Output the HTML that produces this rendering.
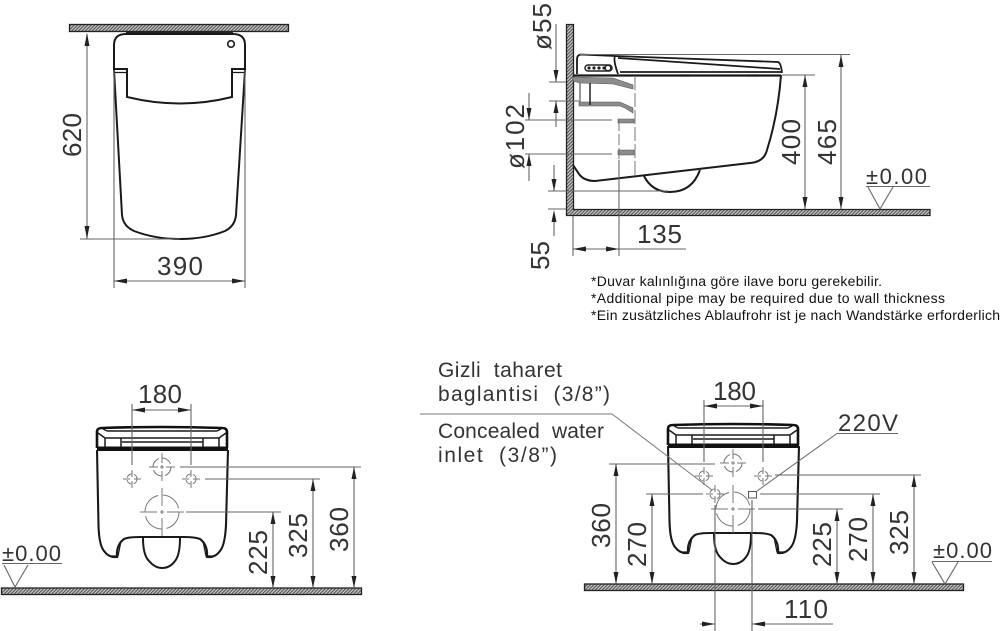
<!DOCTYPE html>
<html><head><meta charset="utf-8"><style>
html,body{margin:0;padding:0;background:#fff;width:1000px;height:631px;overflow:hidden}
svg{display:block}
text{font-family:"Liberation Sans",sans-serif;fill:#333}
.d{font-size:26px}
.l{font-size:21px}
.n{font-size:14px;fill:#111}
.t{fill:none;stroke:#1a1a1a;stroke-width:1.8}
.b{fill:none;stroke:#111;stroke-width:3}
.e{fill:none;stroke:#666;stroke-width:1.1}
.c{fill:none;stroke:#777;stroke-width:1}
.h{fill:url(#hatch);stroke:#222;stroke-width:1.3}
.h0{fill:#8c8c8c;stroke:#555;stroke-width:.6}
.a{fill:#222;stroke:none}
</style></head><body>
<svg width="1000" height="631" viewBox="0 0 1000 631" xmlns="http://www.w3.org/2000/svg">
<defs>
<pattern id="hatch" width="2.400" height="2.400" patternUnits="userSpaceOnUse" patternTransform="rotate(-45)">
<rect width="2.400" height="2.400" fill="#cfcfcf"/><rect width="2.400" height="1.200" fill="#555"/>
</pattern>
<g id="seat">
<path class="b" d="M0 22 L0 6 Q0 2 5 2 Q65 0 125 2 Q130 2 130 6 L130 22" style="stroke-width:2.600"/>
<path class="t" d="M10 5H120M8 12H122M25 16H106M8 12V21M24 12V21M106 12V21M122 12V21M1 7L8 12M129 7L122 12M6 3L10 5M124 3L120 5" style="stroke-width:1.500"/>
<rect x="0" y="20.500" width="131" height="4.500" fill="#111"/>
</g>
<g id="body">
<path class="t" d="M97 450 L98.500 525 Q99 545 104 551 Q109 558 117 557 Q116 545 124 539 Q128 537 140 537 H184 Q195 537 200 539 Q208 545 207 557 Q215 558 220 551 Q225 545 226 525 L228 450" style="stroke-width:2.100"/>
<path class="t" d="M111 556 H118 L121 541 M213 556 H206 L203 541" style="stroke-width:1.300"/>
<path class="t" d="M143 538 Q143 555 149 561 Q155 568 162 568 Q170 568 175 561 Q180 555 180 538" style="stroke-width:2"/>
</g>
<g id="hs"><circle r="5" class="c" stroke-dasharray="6 2.500"/><path class="c" d="M-9 0H-2M2 0H9M0 -9V-2M0 2V9"/></g>
<g id="hm"><circle r="9" class="c" stroke-dasharray="11 3"/><path class="c" d="M-13 0H-4M4 0H13M0 -14V-4M0 4V14M-2 0H2M0 -2V2"/></g>
<g id="hl"><circle r="17" class="c" stroke-dasharray="22 5"/><path class="c" d="M-22 0H-5M5 0H22M0 -24V-6M0 6V24M-2 0H2M0 -2V2"/></g>
</defs>

<!-- TOP LEFT -->
<rect class="h" x="69.500" y="24.500" width="219" height="7"/>
<rect x="126" y="31" width="107" height="3" fill="#222"/>
<path class="t" d="M114 69 V45 Q114 34 126 34 H233 Q245 34 245 45 V69 H232 V97 Q180 110 127 97 V69 Z" style="stroke-width:2"/>
<path class="t" d="M114 72.500 H127M232 72.500 H245" style="stroke-width:1.200"/>
<path class="t" d="M114 70 L122 215 Q123 226 134 231 Q155 239 180 239 Q205 239 225 231 Q235 226 236 215 L245 70" style="stroke-width:2"/>
<circle cx="231" cy="44" r="3.300" fill="#fff" stroke="#222" stroke-width="1.700"/>
<path class="e" d="M87 34V239M80 239H180M114 70V288M245 70V288M114 281H245"/>
<path class="a" d="M87 33l-2.500 13h5zM87 239l-2.500 -13h5zM114 281l13 -2.500v5zM245 281l-13 -2.500v5z"/>
<text class="d" transform="translate(81,135) rotate(-90)" text-anchor="middle" textLength="44">620</text>
<text class="d" x="157" y="275" textLength="46">390</text>

<!-- TOP RIGHT -->
<path class="h" d="M566.500 24.500 H573.500 V209.500 H930 V215.500 H566.500 Z"/>
<path class="t" d="M577 74 V59 Q577 55 581 54.500 L615 56 L778 62 Q781 63 782 73 M615 56 Q613 60 618 74 M618 58 L780 69 M620 72 H781" style="stroke-width:1.800"/>
<path class="t" d="M573 75.500 H781" style="stroke-width:2.200"/>
<path d="M680 74.500h11v2h-11zM747 74.500h12v2h-12z" fill="#111"/>
<rect x="585" y="65" width="27" height="6" rx="3" fill="#fff" stroke="#222" stroke-width="1.500"/>
<circle cx="589" cy="68" r="1.600" fill="#222"/><circle cx="594" cy="68" r="1.600" fill="#222"/><circle cx="599" cy="68" r="1.600" fill="#222"/><circle cx="604" cy="68" r="1.600" fill="#222"/>
<circle cx="608" cy="68" r="2.700" fill="#fff" stroke="#222" stroke-width="1.300"/>
<path class="t" d="M781 75 Q778 115 767 150 Q764 162 750 163 L595 181 Q584 181 579 174 L573 165" style="stroke-width:2"/>
<path class="t" d="M644 176 Q652 192 670 192 Q692 192 700 170" style="stroke-width:2"/>
<path class="h0" d="M573 77L613 78L633 85V89L613 84L580 83L573 81Z"/>
<path class="h0" d="M579 102H620L633 108V113L625 108L620 106H579Z"/>
<path class="h0" d="M618 119H634V123H618ZM618 150H634V155H618Z"/>
<path class="e" d="M580 83V102" style="stroke:#444"/>
<path d="M590 83V105" fill="none" stroke="#222" stroke-width="1.500"/>
<path class="c" d="M635 76V176" stroke-dasharray="14 3"/>
<path class="c" d="M619 120V160" stroke-dasharray="11 3"/>
<path class="e" d="M619 160V256M573 216V256M549 82H566M549 101H579M525 120H612M525 154H612M548 191H668M548 209H566M573 249H686"/>
<path class="e" d="M556 24V82M556 101V127M529 93V120M529 154V181M554 165V191M554 216V236"/>
<path class="e" d="M580 54.500H850M782 75H815M805 75V209M841 55V209"/>
<path class="a" d="M556 82l-2.500 -12h5zM556 101l-2.500 12h5zM529 120l-2.500 -12h5zM529 154l-2.500 12h5zM554 191l-2.500 -12h5zM554 210l-2.500 12h5zM573 249l13 -2.500v5zM619 249l-13 -2.500v5zM805 75l-2.500 12h5zM805 209l-2.500 -12h5zM841 55l-2.500 12h5zM841 209l-2.500 -12h5z"/>
<text class="d" transform="translate(551,50) rotate(-90)" textLength="47">ø55</text>
<text class="d" transform="translate(524,169) rotate(-90)" textLength="65">ø102</text>
<text class="d" transform="translate(549,270) rotate(-90)" textLength="29">55</text>
<text class="d" x="637" y="243" textLength="45">135</text>
<text class="d" transform="translate(800,165) rotate(-90)" textLength="46">400</text>
<text class="d" transform="translate(836,165) rotate(-90)" textLength="46">465</text>
<text class="l" x="866" y="184" textLength="61" style="font-size:22px">±0.00</text>
<path class="e" d="M866 186.500H930M868 187L880 209L893 187"/>

<text class="n" x="591" y="286" textLength="291">*Duvar kalınlığına göre ilave boru gerekebilir.</text>
<text class="n" x="591" y="303" textLength="354">*Additional pipe may be required due to wall thickness</text>
<text class="n" x="591" y="320" textLength="409">*Ein zusätzliches Ablaufrohr ist je nach Wandstärke erforderlich</text>

<!-- BOTTOM LEFT -->
<rect class="h" x="1.500" y="588" width="360" height="6.500"/>
<use href="#seat" x="97" y="426"/>
<use href="#body"/>
<use href="#hm" x="162" y="467"/><use href="#hs" x="132" y="479"/><use href="#hs" x="191" y="479"/><use href="#hl" x="162" y="512"/>
<path class="e" d="M132 404V465M191 404V465M132 410H191M180 467H361M205 479H320M186 512H281M273 512V588M313 479V588M354 467V588"/>
<path class="a" d="M132 410l13 -2.500v5zM191 410l-13 -2.500v5zM273 512l-2.500 12h5zM273 588l-2.500 -12h5zM313 479l-2.500 12h5zM313 588l-2.500 -12h5zM354 467l-2.500 12h5zM354 588l-2.500 -12h5z"/>
<text class="d" x="138" y="403" textLength="44">180</text>
<text class="d" transform="translate(267,575) rotate(-90)" textLength="45">225</text>
<text class="d" transform="translate(307,558) rotate(-90)" textLength="45">325</text>
<text class="d" transform="translate(348,552) rotate(-90)" textLength="45">360</text>
<text class="l" x="2" y="561" textLength="59" style="font-size:22px">±0.00</text>
<path class="e" d="M2 563.500H62M4 565L15 587L28 565"/>

<!-- BOTTOM RIGHT -->
<rect class="h" x="584.500" y="584" width="379" height="6.500"/>
<use href="#seat" x="668" y="423"/>
<use href="#body" x="571" y="-4"/>
<use href="#hm" x="733" y="463"/><use href="#hs" x="704" y="476"/><use href="#hs" x="763" y="476"/><use href="#hs" x="715" y="494"/><use href="#hl" x="733" y="509"/>
<rect x="748.500" y="491.500" width="8" height="6.500" fill="#fff" stroke="#555" stroke-width="1"/>
<path class="e" d="M704 400V462M763 400V462M704 406H763"/>
<path class="e" d="M609 464H715M646 494H703M758 509H843M760 494H880M775 475H921M616 464V584M652 494V584M837 509V584M873 494V584M914 475V584"/>
<path class="e" d="M715 505V631M752 500V631M700 624H715M752 624H833"/>
<path d="M420 414H612L712 490" fill="none" stroke="#777" stroke-width="1"/>
<path d="M898 433.500H837L757 491" fill="none" stroke="#666" stroke-width="1"/>
<path class="a" d="M704 406l13 -2.500v5zM763 406l-13 -2.500v5zM616 464l-2.500 12h5zM616 584l-2.500 -12h5zM652 494l-2.500 12h5zM652 584l-2.500 -12h5zM837 509l-2.500 12h5zM837 584l-2.500 -12h5zM873 494l-2.500 12h5zM873 584l-2.500 -12h5zM914 475l-2.500 12h5zM914 584l-2.500 -12h5zM715 624l-13 -2.500v5zM752 624l13 -2.500v5z"/>
<text class="d" x="713" y="400" textLength="43">180</text>
<text class="d" x="838" y="431" textLength="60" style="font-size:24px">220V</text>
<text class="d" transform="translate(610,548) rotate(-90)" textLength="45">360</text>
<text class="d" transform="translate(646,567) rotate(-90)" textLength="45">270</text>
<text class="d" transform="translate(831,567) rotate(-90)" textLength="45">225</text>
<text class="d" transform="translate(867,562) rotate(-90)" textLength="45">270</text>
<text class="d" transform="translate(908,555) rotate(-90)" textLength="45">325</text>
<text class="d" x="784" y="618" textLength="44">110</text>
<text class="l" x="933" y="558" textLength="59" style="font-size:22px">±0.00</text>
<path class="e" d="M932 561.500H992M932 562L945 584L958 562"/>

<text class="l" x="438" y="377" textLength="124">Gizli&#160;&#160;taharet</text>
<text class="l" x="438" y="401" textLength="172">baglantisi&#160;&#160;(3/8”)</text>
<text class="l" x="438" y="438" textLength="166">Concealed&#160;&#160;water</text>
<text class="l" x="438" y="462" textLength="119">inlet&#160;&#160;(3/8”)</text>
</svg>
</body></html>
